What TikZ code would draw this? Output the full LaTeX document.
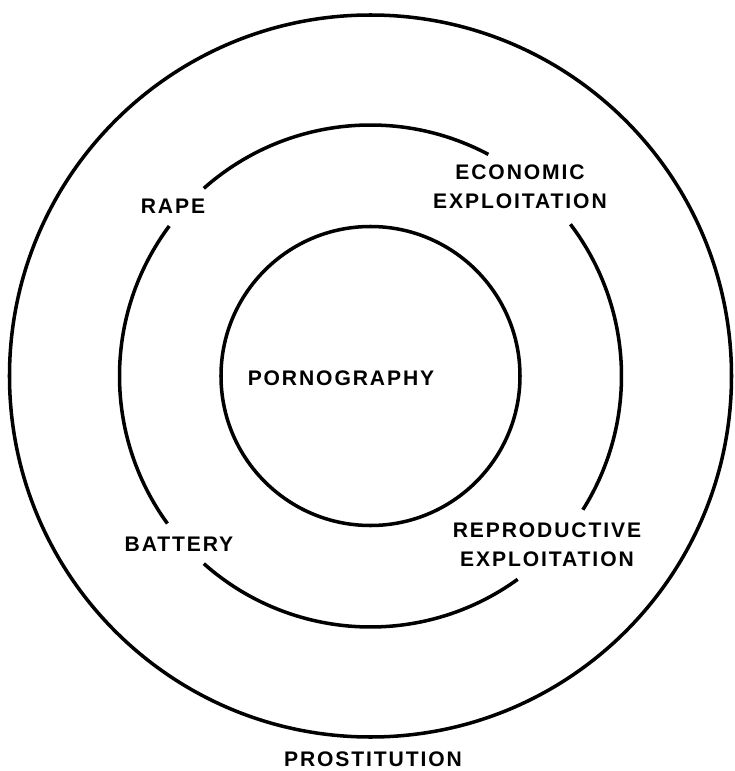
\documentclass[tikz,border=0pt]{standalone}
\usepackage{fontspec}
\setmainfont{Liberation Sans}[LetterSpace=9]

\begin{document}
\begin{tikzpicture}[
        x=0.02cm, y=0.02cm,
        ring/.style={draw, line width=2pt},
        tag/.style={font=\bfseries\fontsize{12}{16.4}\selectfont, align=center, inner sep=1pt}
    ]
        \useasboundingbox (-370.5,-395) rectangle (363.5,376);

        % outer and inner rings
        \draw[ring] (0,0) circle[radius=361];
        \draw[ring] (0,0) circle[radius=149.5];

        % middle ring, broken at the labels
        \foreach \a/\b in {62/131.6, 143.3/216, 228.4/305.9, 327.8/397.2}
            \draw[ring] (\a:251) arc[start angle=\a, end angle=\b, radius=251];

        \node[tag] (porn) at (-29.5,-2) {PORNOGRAPHY};
        \node[tag] (rape) at (-197.5,170) {RAPE};
        \node[tag] (econ) at (149.5,189.5) {ECONOMIC\\EXPLOITATION};
        \node[tag] (battery) at (-191.5,-168) {BATTERY};
        \node[tag] (repro) at (176.5,-169) {REPRODUCTIVE\\EXPLOITATION};
        \node[tag] (prostitution) at (2.5,-383) {PROSTITUTION};

    \end{tikzpicture}
\end{document}
